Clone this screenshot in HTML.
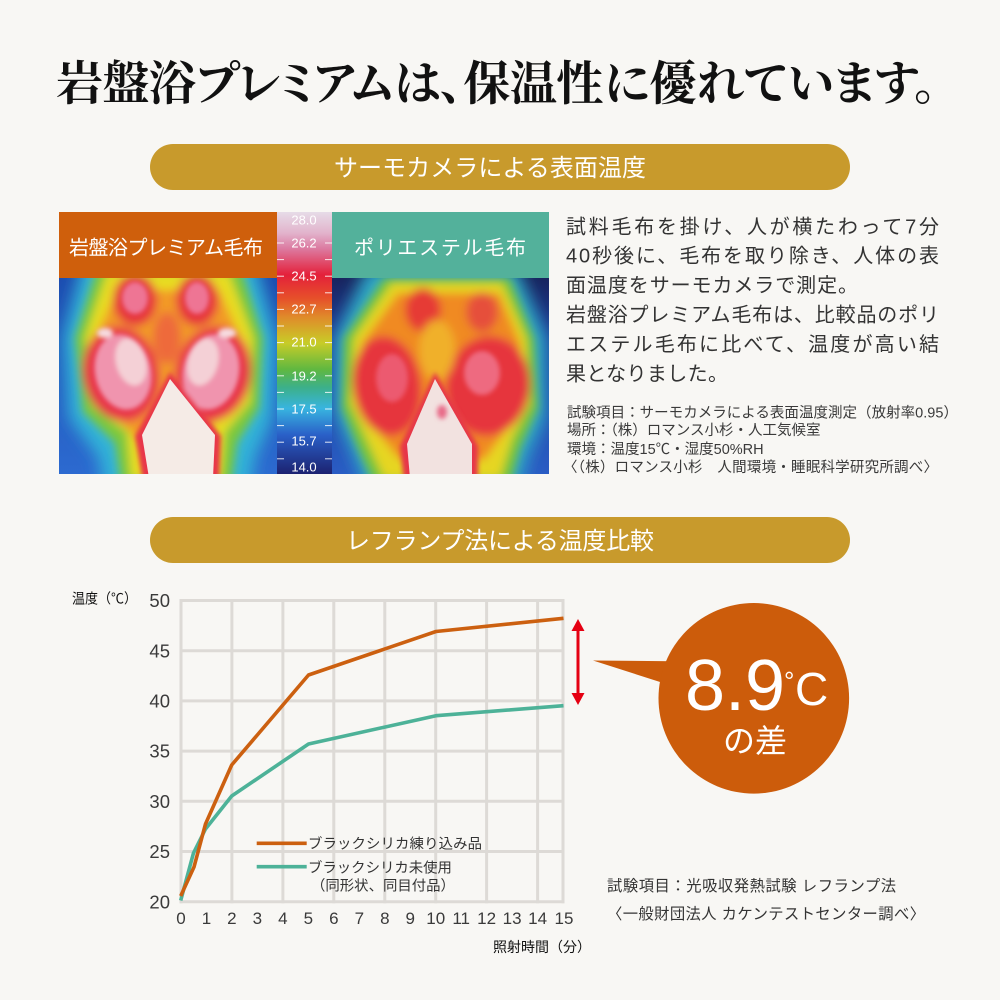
<!DOCTYPE html>
<html><head><meta charset="utf-8"><title>岩盤浴プレミアム 保温性</title>
<style>
html,body{margin:0;padding:0;background:#f8f7f4;}
svg{display:block;}
text{font-family:"Liberation Sans","Noto Sans CJK JP",sans-serif;}
</style></head><body>
<svg width="1000" height="1000" viewBox="0 0 1000 1000" xmlns="http://www.w3.org/2000/svg">
<defs>
 <clipPath id="cl"><rect x="0" y="0" width="218" height="196"/></clipPath>
 <clipPath id="cr"><rect x="0" y="0" width="217" height="196"/></clipPath>
 <filter id="fl" x="-50%" y="-50%" width="200%" height="200%"><feGaussianBlur stdDeviation="8"/></filter>
 <filter id="fb" x="-50%" y="-50%" width="200%" height="200%"><feGaussianBlur stdDeviation="4.5"/></filter>
 <filter id="fs" x="-50%" y="-50%" width="200%" height="200%"><feGaussianBlur stdDeviation="2.5"/></filter>
 <linearGradient id="lbg" x1="0" y1="0" x2="0" y2="1"><stop offset="0" stop-color="#1d4cb0"/><stop offset="1" stop-color="#2c6ad0"/></linearGradient>
 <linearGradient id="rbg" x1="0" y1="0" x2="0" y2="1"><stop offset="0" stop-color="#18245e"/><stop offset="0.3" stop-color="#1e3c9a"/><stop offset="1" stop-color="#2a5cc4"/></linearGradient>
 <linearGradient id="scl" x1="0" y1="0" x2="0" y2="1">
  <stop offset="0" stop-color="#e6dce8"/>
  <stop offset="0.08" stop-color="#e2b3cc"/>
  <stop offset="0.14" stop-color="#dc7aa0"/>
  <stop offset="0.24" stop-color="#e4203a"/>
  <stop offset="0.33" stop-color="#e6502a"/>
  <stop offset="0.40" stop-color="#e08a2a"/>
  <stop offset="0.50" stop-color="#c8cc28"/>
  <stop offset="0.60" stop-color="#60b840"/>
  <stop offset="0.67" stop-color="#3cb08a"/>
  <stop offset="0.75" stop-color="#38b4e0"/>
  <stop offset="0.85" stop-color="#2a60c8"/>
  <stop offset="1" stop-color="#1c2270"/>
 </linearGradient>
</defs>
<rect width="1000" height="1000" fill="#f8f7f4"/>

<!-- Title -->
<text x="56" y="100" font-size="47" font-weight="700" textLength="882" lengthAdjust="spacing" style="font-family:'Liberation Serif','Noto Serif CJK SC',serif;font-feature-settings:'palt'" fill="#111">岩盤浴プレミアムは、保温性に優れています。</text>

<!-- Pill 1 -->
<rect x="150" y="144" width="700" height="46" rx="23" fill="#c89a2c"/>
<text x="490" y="176" text-anchor="middle" font-size="24" fill="#fff" textLength="312" lengthAdjust="spacing">サーモカメラによる表面温度</text>

<!-- Left thermal -->
<g transform="translate(59,278)" clip-path="url(#cl)">
 <rect width="218" height="196" fill="url(#lbg)"/>
 <g filter="url(#fl)">
  <path d="M25,-20 L195,-20 L218,60 L214,140 L196,180 L190,216 L45,216 L40,180 L10,140 L4,60 Z" fill="#30b4d8"/>
 </g>
 <g filter="url(#fb)">
  <path d="M38,-10 L182,-10 L204,60 L200,130 L178,165 L172,206 L62,206 L56,165 L24,134 L16,60 Z" fill="#7cc83c"/>
  <path d="M48,-5 L170,-5 L194,60 L191,124 L166,154 L162,200 L72,200 L68,154 L34,128 L26,60 Z" fill="#e8dc22"/>
  <path d="M58,12 L160,12 L184,65 L180,120 L156,145 L140,168 L86,168 L62,145 L36,120 L34,65 Z" fill="#f29a26"/>
  <ellipse cx="76" cy="22" rx="22" ry="26" fill="#e6363e"/>
  <ellipse cx="138" cy="22" rx="21" ry="26" fill="#e6363e"/>
  <ellipse cx="62" cy="96" rx="38" ry="48" fill="#e83448" transform="rotate(-12 62 96)"/>
  <ellipse cx="154" cy="96" rx="38" ry="48" fill="#e83448" transform="rotate(12 154 96)"/>
  <ellipse cx="108" cy="60" rx="14" ry="26" fill="#ee6a3a"/>
 </g>
 <g filter="url(#fs)">
  <ellipse cx="76" cy="20" rx="13" ry="16" fill="#ee7494"/>
  <ellipse cx="138" cy="20" rx="12" ry="16" fill="#ee7494"/>
  <ellipse cx="64" cy="94" rx="28" ry="38" fill="#f094ae" transform="rotate(-12 64 94)"/>
  <ellipse cx="152" cy="94" rx="28" ry="38" fill="#f094ae" transform="rotate(12 152 94)"/>
  <ellipse cx="72" cy="84" rx="15" ry="24" fill="#f4d0d6" transform="rotate(-15 72 84)"/>
  <ellipse cx="144" cy="84" rx="15" ry="24" fill="#f4d0d6" transform="rotate(15 144 84)"/>
  <ellipse cx="46" cy="55" rx="8" ry="5" fill="#f6dce0"/>
  <ellipse cx="168" cy="55" rx="9" ry="5" fill="#f6dce0"/>
  <path d="M111,94 L76,158 L84,204 L160,204 L162,158 Z" fill="#e8344a"/>
 </g>
 <path d="M111,101 L83,157 L90,200 L154,200 L156,157 Z" fill="#f5ebe6"/>
</g>

<!-- Right thermal -->
<g transform="translate(332,278)" clip-path="url(#cr)">
 <rect width="217" height="196" fill="url(#rbg)"/>
 <g filter="url(#fl)">
  <path d="M35,-10 L185,-10 L215,60 L214,140 L196,180 L186,216 L36,216 L20,175 L2,135 L2,60 Z" fill="#2ea8c8"/>
 </g>
 <g filter="url(#fb)">
  <path d="M52,0 L178,0 L202,60 L206,130 L188,170 L178,206 L42,206 L26,170 L10,130 L12,60 Z" fill="#78c43a"/>
  <path d="M60,5 L170,5 L194,60 L198,125 L180,160 L168,200 L52,200 L34,160 L18,125 L22,60 Z" fill="#e6d624"/>
  <path d="M66,15 L167,15 L188,65 L192,120 L172,155 L152,182 L68,182 L42,150 L26,118 L30,65 Z" fill="#f08a24"/>
  <ellipse cx="91" cy="32" rx="18" ry="22" fill="#e63a36"/>
  <ellipse cx="150" cy="34" rx="16" ry="20" fill="#e6503a"/>
  <ellipse cx="55" cy="108" rx="34" ry="50" fill="#e6343c" transform="rotate(-8 55 108)"/>
  <ellipse cx="156" cy="108" rx="42" ry="50" fill="#e6343c" transform="rotate(8 156 108)"/>
  <ellipse cx="105" cy="72" rx="18" ry="30" fill="#f0b02a"/>
 </g>
 <g filter="url(#fs)">
  <path d="M103,94 L68,168 L72,204 L146,204 L146,168 Z" fill="#e6344a"/>
  <ellipse cx="150" cy="95" rx="18" ry="22" fill="#ee6a80"/>
  <ellipse cx="60" cy="100" rx="16" ry="24" fill="#ec5a70"/>
 </g>
 <path d="M103,101 L75,166 L78,200 L140,200 L140,166 Z" fill="#f2e2e0"/>
 <ellipse cx="110" cy="134" rx="5" ry="7" fill="#e86a88" filter="url(#fs)"/>
</g>

<!-- Headers -->
<rect x="59" y="212" width="218" height="66" fill="#cf5f0c"/>
<rect x="332" y="212" width="217" height="66" fill="#53b19b"/>
<text x="69" y="254.5" font-size="20" fill="#fff" textLength="194" lengthAdjust="spacing">岩盤浴プレミアム毛布</text>
<text x="354" y="254.5" font-size="20" fill="#fff" textLength="172" lengthAdjust="spacing">ポリエステル毛布</text>

<!-- Scale bar -->
<rect x="277" y="212" width="55" height="262" fill="url(#scl)"/>
<g stroke="#ffffff" stroke-width="1" opacity="0.85">
 <line x1="277" y1="243" x2="284" y2="243"/><line x1="325" y1="243" x2="332" y2="243"/>
 <line x1="277" y1="259.6" x2="284" y2="259.6"/><line x1="325" y1="259.6" x2="332" y2="259.6"/>
 <line x1="277" y1="276.2" x2="284" y2="276.2"/><line x1="325" y1="276.2" x2="332" y2="276.2"/>
 <line x1="277" y1="292.8" x2="284" y2="292.8"/><line x1="325" y1="292.8" x2="332" y2="292.8"/>
 <line x1="277" y1="309.4" x2="284" y2="309.4"/><line x1="325" y1="309.4" x2="332" y2="309.4"/>
 <line x1="277" y1="326" x2="284" y2="326"/><line x1="325" y1="326" x2="332" y2="326"/>
 <line x1="277" y1="342.6" x2="284" y2="342.6"/><line x1="325" y1="342.6" x2="332" y2="342.6"/>
 <line x1="277" y1="359.2" x2="284" y2="359.2"/><line x1="325" y1="359.2" x2="332" y2="359.2"/>
 <line x1="277" y1="375.8" x2="284" y2="375.8"/><line x1="325" y1="375.8" x2="332" y2="375.8"/>
 <line x1="277" y1="392.4" x2="284" y2="392.4"/><line x1="325" y1="392.4" x2="332" y2="392.4"/>
 <line x1="277" y1="409" x2="284" y2="409"/><line x1="325" y1="409" x2="332" y2="409"/>
 <line x1="277" y1="425.6" x2="284" y2="425.6"/><line x1="325" y1="425.6" x2="332" y2="425.6"/>
 <line x1="277" y1="442.2" x2="284" y2="442.2"/><line x1="325" y1="442.2" x2="332" y2="442.2"/>
 <line x1="277" y1="458.8" x2="284" y2="458.8"/><line x1="325" y1="458.8" x2="332" y2="458.8"/>
</g>
<g font-size="13" fill="#ffffff" text-anchor="middle">
 <text x="304" y="224.7">28.0</text>
 <text x="304" y="247.7">26.2</text>
 <text x="304" y="280.7">24.5</text>
 <text x="304" y="313.7">22.7</text>
 <text x="304" y="346.7">21.0</text>
 <text x="304" y="380.7">19.2</text>
 <text x="304" y="413.7">17.5</text>
 <text x="304" y="445.7">15.7</text>
 <text x="304" y="471.7">14.0</text>
</g>

<!-- Right description -->
<g font-size="20" fill="#333">
 <text x="566" y="233.3" textLength="373" lengthAdjust="spacing">試料毛布を掛け、人が横たわって7分</text>
 <text x="566" y="262.6" textLength="373" lengthAdjust="spacing">40秒後に、毛布を取り除き、人体の表</text>
 <text x="566" y="292.1" textLength="292" lengthAdjust="spacing">面温度をサーモカメラで測定。</text>
 <text x="566" y="321.6" textLength="373" lengthAdjust="spacing">岩盤浴プレミアム毛布は、比較品のポリ</text>
 <text x="566" y="351.1" textLength="373" lengthAdjust="spacing">エステル毛布に比べて、温度が高い結</text>
 <text x="566" y="380.6" textLength="162" lengthAdjust="spacing">果となりました。</text>
</g>
<g font-size="14.5" fill="#3a3a3a">
 <text x="567" y="417.5" textLength="391" lengthAdjust="spacing">試験項目：サーモカメラによる表面温度測定（放射率0.95）</text>
 <text x="567" y="435.2">場所：（株）ロマンス小杉・人工気候室</text>
 <text x="567" y="453.8">環境：温度15℃・湿度50%RH</text>
 <text x="563" y="472.2" textLength="375" lengthAdjust="spacing">〈（株）ロマンス小杉　人間環境・睡眠科学研究所調べ〉</text>
</g>

<!-- Pill 2 -->
<rect x="150" y="517" width="700" height="46" rx="23" fill="#c89a2c"/>
<text x="500" y="549" text-anchor="middle" font-size="24" fill="#fff" textLength="308" lengthAdjust="spacing">レフランプ法による温度比較</text>

<!-- Chart grid -->
<g stroke="#dddad6" stroke-width="3" fill="none">
 <line x1="179.5" y1="600.5" x2="564.5" y2="600.5"/>
 <line x1="179.5" y1="650.7" x2="564.5" y2="650.7"/>
 <line x1="179.5" y1="700.9" x2="564.5" y2="700.9"/>
 <line x1="179.5" y1="751.1" x2="564.5" y2="751.1"/>
 <line x1="179.5" y1="801.3" x2="564.5" y2="801.3"/>
 <line x1="179.5" y1="851.5" x2="564.5" y2="851.5"/>
 <line x1="179.5" y1="901.7" x2="564.5" y2="901.7"/>
 <line x1="181" y1="599" x2="181" y2="903.2"/>
 <line x1="231.9" y1="599" x2="231.9" y2="903.2"/>
 <line x1="282.9" y1="599" x2="282.9" y2="903.2"/>
 <line x1="333.8" y1="599" x2="333.8" y2="903.2"/>
 <line x1="384.8" y1="599" x2="384.8" y2="903.2"/>
 <line x1="435.7" y1="599" x2="435.7" y2="903.2"/>
 <line x1="486.6" y1="599" x2="486.6" y2="903.2"/>
 <line x1="537.6" y1="599" x2="537.6" y2="903.2"/>
 <line x1="563" y1="599" x2="563" y2="903.2"/>
</g>

<!-- Y labels -->
<g font-size="18.5" fill="#3a3a3a" text-anchor="end">
 <text x="170" y="607.1">50</text>
 <text x="170" y="657.3">45</text>
 <text x="170" y="707.5">40</text>
 <text x="170" y="757.7">35</text>
 <text x="170" y="807.9">30</text>
 <text x="170" y="858.1">25</text>
 <text x="170" y="908.3">20</text>
</g>
<!-- X labels -->
<g font-size="17" fill="#3a3a3a" text-anchor="middle">
 <text x="181" y="924">0</text>
 <text x="206.5" y="924">1</text>
 <text x="231.9" y="924">2</text>
 <text x="257.4" y="924">3</text>
 <text x="282.9" y="924">4</text>
 <text x="308.4" y="924">5</text>
 <text x="333.8" y="924">6</text>
 <text x="359.3" y="924">7</text>
 <text x="384.8" y="924">8</text>
 <text x="410.2" y="924">9</text>
 <text x="435.7" y="924">10</text>
 <text x="461.2" y="924">11</text>
 <text x="486.6" y="924">12</text>
 <text x="512.1" y="924">13</text>
 <text x="537.6" y="924">14</text>
 <text x="564" y="924">15</text>
</g>
<text x="72" y="603.5" font-size="14" fill="#111" textLength="65" lengthAdjust="spacingAndGlyphs">温度（℃）</text>
<text x="493" y="952" font-size="14" fill="#111">照射時間（分）</text>

<!-- Series -->
<polyline points="180.7,900.5 193.5,853 205.5,829 231.7,796 308.5,744 436,715.7 563.5,705.7" fill="none" stroke="#4db298" stroke-width="3.6" stroke-linejoin="round"/>
<polyline points="180.7,896 194,867 205.5,824 231.7,765 308.5,675 436,631.5 563.5,618.3" fill="none" stroke="#cc6010" stroke-width="3.6" stroke-linejoin="round"/>

<!-- Legend -->
<line x1="256.7" y1="843.3" x2="306.7" y2="843.3" stroke="#cc6010" stroke-width="3.6"/>
<line x1="256.7" y1="866.7" x2="306.7" y2="866.7" stroke="#4db298" stroke-width="3.6"/>
<g font-size="14.4" fill="#333">
 <text x="308" y="848.5" textLength="174" lengthAdjust="spacing">ブラックシリカ練り込み品</text>
 <text x="308" y="872.5">ブラックシリカ未使用</text>
 <text x="311" y="890.5">（同形状、同目付品）</text>
</g>

<!-- Red arrow -->
<line x1="578" y1="628" x2="578" y2="696" stroke="#e50012" stroke-width="3"/>
<polygon points="578,619 571.5,631 584.5,631" fill="#e50012"/>
<polygon points="578,705 571.5,693 584.5,693" fill="#e50012"/>

<!-- Callout -->
<polygon points="593,660.5 700,661.5 700,694.8" fill="#cc5c0b"/>
<circle cx="753.8" cy="698.3" r="95.3" fill="#cc5c0b"/>
<text x="685" y="710" font-size="72" fill="#fff">8.9</text>
<text x="784" y="690" font-size="26" fill="#fff">°</text>
<text x="795" y="705" font-size="46" fill="#fff">C</text>
<text x="755" y="752" font-size="32" fill="#fff" text-anchor="middle">の差</text>

<!-- Bottom notes -->
<g font-size="15.3" fill="#333">
 <text x="607" y="890.8" textLength="289" lengthAdjust="spacing">試験項目：光吸収発熱試験 レフランプ法</text>
 <text x="607" y="918.8" textLength="318" lengthAdjust="spacing">〈一般財団法人 カケンテストセンター調べ〉</text>
</g>
</svg>
</body></html>
